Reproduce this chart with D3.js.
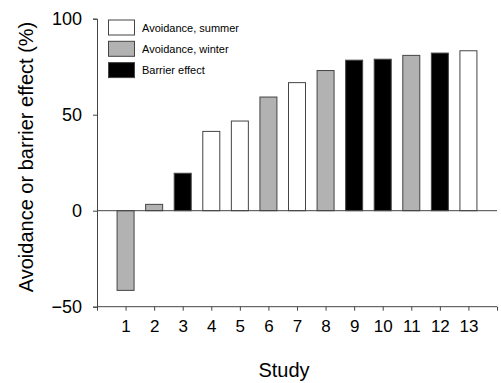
<!DOCTYPE html>
<html><head><meta charset="utf-8">
<script src="https://cdn.jsdelivr.net/npm/d3@7"></script>
<style>body{margin:0;background:#fff}svg{display:block}text{font-family:"Liberation Sans",Arial,sans-serif;fill:#000}</style>
</head><body><svg id="c" width="501" height="383"></svg>
<script>
const studies = [1,2,3,4,5,6,7,8,9,10,11,12,13];
const values = [-41.5,3.3,19.5,41.3,46.7,59.2,66.7,73.0,78.4,78.9,80.9,82.1,83.3];
const types = ["winter","winter","barrier","summer","summer","winter","summer","winter","barrier","barrier","winter","barrier","summer"];
const legendKeys = ["summer","winter","barrier"];
const legendLabels = ["Avoidance, summer","Avoidance, winter","Barrier effect"];
const yTicks = [-50,0,50,100];

const fills = {summer:"#ffffff", winter:"#b2b2b2", barrier:"#000000"};
const svg = d3.select("#c");
const x = d3.scaleLinear().domain([0,14]).range([97,497]);
const y = d3.scaleLinear().domain([-50,100]).range([306.7,18.7]);
const bw = 17;

// bars
svg.append("g").selectAll("rect").data(studies).join("rect")
  .attr("x",(d,i)=>x(d)-bw/2)
  .attr("y",(d,i)=>Math.min(y(values[i]),y(0)))
  .attr("width",bw)
  .attr("height",(d,i)=>Math.abs(y(values[i])-y(0)))
  .attr("fill",(d,i)=>fills[types[i]])
  .attr("stroke","#444").attr("stroke-width",1);

// zero line
svg.append("line").attr("x1",x(0)).attr("x2",x(14)).attr("y1",y(0)).attr("y2",y(0))
  .attr("stroke","#444").attr("stroke-width",1);

// y axis
const ya = svg.append("g").attr("transform",`translate(${x(0)},0)`)
  .call(d3.axisLeft(y).tickValues(yTicks).tickSize(4).tickPadding(11).tickFormat(d3.format("d")));
ya.selectAll("path,line").attr("stroke","#444");
ya.selectAll("text").attr("font-size",18).style("font-family","Liberation Sans, Arial, sans-serif");

// x axis
const xa = svg.append("g").attr("transform",`translate(0,${y(-50)})`)
  .call(d3.axisBottom(x).tickValues([0].concat(studies).concat([14])).tickSize(4).tickPadding(9)
    .tickFormat(d=>studies.includes(d)?d:""));
xa.select(".domain").attr("d",`M${x(0)},0H${x(14)}`);
xa.selectAll("path,line").attr("stroke","#444");
xa.selectAll("text").attr("font-size",17).style("font-family","Liberation Sans, Arial, sans-serif");

// axis titles
svg.append("text").attr("x",284).attr("y",377).attr("text-anchor","middle")
  .attr("font-size",20).text("Study");
svg.append("text").attr("transform","translate(33,157) rotate(-90)").attr("text-anchor","middle")
  .attr("font-size",20).text("Avoidance or barrier effect (%)");

// legend
const lg = svg.append("g");
legendKeys.forEach((k,i)=>{
  const yy = 20 + i*21.3;
  lg.append("rect").attr("x",108.5).attr("y",yy).attr("width",26).attr("height",15)
    .attr("fill",fills[k]).attr("stroke","#444");
  lg.append("text").attr("x",142).attr("y",yy+11.5).attr("font-size",11).text(legendLabels[i]);
});
</script></body></html>
